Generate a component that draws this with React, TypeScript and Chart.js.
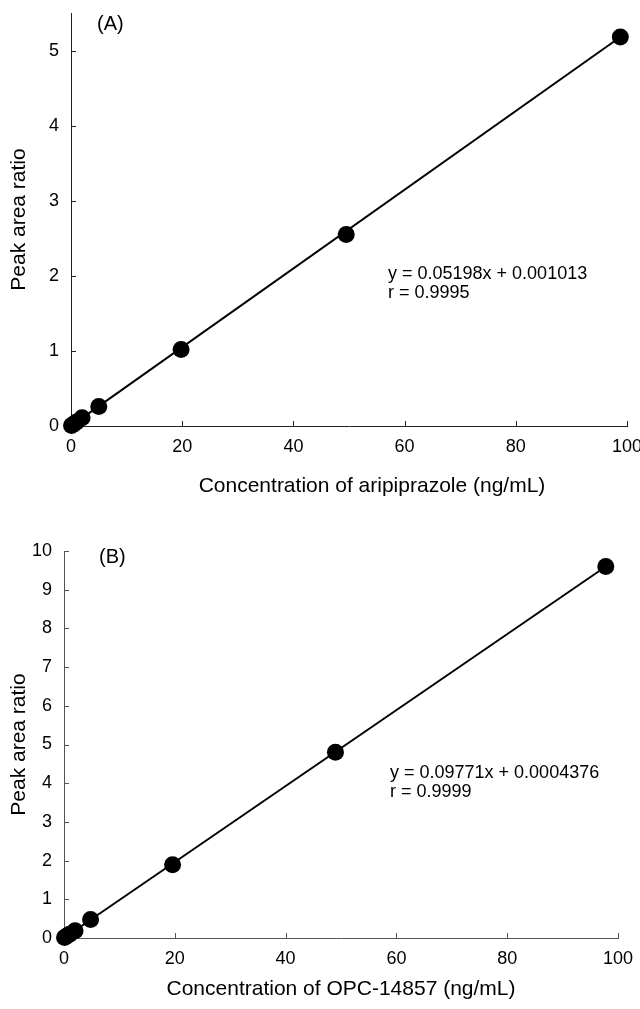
import React, { useEffect, useRef } from "react";
import { Chart, registerables } from "chart.js";

Chart.register(...registerables);

// ---- data ----
const concA = [0.1, 0.5, 1, 2, 5, 19.8, 49.5, 98.8];
const ratioA = [0.006, 0.027, 0.053, 0.11, 0.26, 1.02, 2.55, 5.18];
const fitAX = [0, 98.8];
const fitAY = [0.001, 5.18];

const concB = [0.1, 0.5, 1, 2, 4.8, 19.6, 49, 97.8];
const ratioB = [0.01, 0.05, 0.1, 0.19, 0.48, 1.89, 4.8, 9.6];
const fitBX = [0, 97.8];
const fitBY = [0.0004, 9.6];

const xTickValues = [0, 20, 40, 60, 80, 100];
const yTicksA = [0, 1, 2, 3, 4, 5];
const yTicksB = [0, 1, 2, 3, 4, 5, 6, 7, 8, 9, 10];

const eqA = ["y = 0.05198x + 0.001013", "r = 0.9995"];
const eqB = ["y = 0.09771x + 0.0004376", "r = 0.9999"];

const FONT = '"Liberation Sans", Arial, Helvetica, sans-serif';

const decorPlugin = {
  id: "decor",
  beforeDatasetsDraw(chart: any, _args: any, opts: any) {
    const { ctx, chartArea } = chart;
    const xs = chart.scales.x;
    const ys = chart.scales.y;
    ctx.save();
    ctx.strokeStyle = opts.axisColor;
    ctx.lineWidth = 1;
    xs.ticks.forEach((t: any) => {
      const px = Math.round(xs.getPixelForValue(t.value)) + 0.5;
      ctx.beginPath();
      ctx.moveTo(px, chartArea.bottom);
      ctx.lineTo(px, chartArea.bottom - opts.tickLen);
      ctx.stroke();
    });
    ys.ticks.forEach((t: any) => {
      const py = Math.round(ys.getPixelForValue(t.value)) + 0.5;
      ctx.beginPath();
      ctx.moveTo(chartArea.left, py);
      ctx.lineTo(chartArea.left + opts.tickLen, py);
      ctx.stroke();
    });
    ctx.restore();
  },
  afterDraw(chart: any, _args: any, opts: any) {
    const { ctx, chartArea } = chart;
    ctx.save();
    ctx.fillStyle = "#000";
    ctx.textAlign = "left";
    ctx.textBaseline = "middle";
    ctx.font = `18px ${FONT}`;
    (opts.eq as string[]).forEach((line, i) => {
      ctx.fillText(line, chartArea.left + opts.eqDx, chartArea.top + opts.eqDy + i * opts.eqGap);
    });
    ctx.font = `20px ${FONT}`;
    ctx.fillText(opts.panel, chartArea.left + opts.pDx, chartArea.top + opts.pDy);
    // x-axis title
    ctx.font = `21px ${FONT}`;
    ctx.textAlign = "center";
    ctx.fillText(
      opts.xTitle,
      (chartArea.left + chartArea.right) / 2 + opts.xTitleDx,
      chartArea.bottom + opts.xTitleDy
    );
    ctx.restore();
  },
};

type Cfg = {
  xs: number[];
  ys: number[];
  fx: number[];
  fy: number[];
  yMax: number;
  yTicks: number[];
  xTitle: string;
  eq: string[];
  panel: string;
  height: number;
  pad: { top: number; right: number };
  yWidth: number;
  xHeight: number;
  xTitleDx: number;
  xTitleDy: number;
  axisColor: string;
  eqDx: number;
  eqDy: number;
  pDx: number;
  pDy: number;
};

function Panel({ cfg }: { cfg: Cfg }) {
  const ref = useRef<HTMLCanvasElement | null>(null);
  useEffect(() => {
    if (!ref.current) return;
    const points = cfg.xs.map((x, i) => ({ x, y: cfg.ys[i] }));
    const fit = cfg.fx.map((x, i) => ({ x, y: cfg.fy[i] }));
    const chart = new Chart(ref.current, {
      type: "scatter",
      data: {
        datasets: [
          {
            data: points,
            pointRadius: 8.5,
            pointBackgroundColor: "#000",
            pointBorderWidth: 0,
            pointHoverRadius: 8.5,
            showLine: false,
            clip: false as any,
          },
          {
            data: fit,
            showLine: true,
            borderColor: "#000",
            borderWidth: 2,
            pointRadius: 0,
            pointHoverRadius: 0,
            clip: false as any,
          },
        ],
      },
      options: {
        animation: false,
        responsive: false,
        events: [],
        layout: { padding: { top: cfg.pad.top, right: cfg.pad.right, left: 0, bottom: 0 } },
        plugins: {
          legend: { display: false },
          tooltip: { enabled: false },
          decor: {
            axisColor: cfg.axisColor,
            tickLen: 5,
            eq: cfg.eq,
            eqDx: cfg.eqDx,
            eqDy: cfg.eqDy,
            eqGap: 19,
            panel: cfg.panel,
            pDx: cfg.pDx,
            pDy: cfg.pDy,
            xTitle: cfg.xTitle,
            xTitleDx: cfg.xTitleDx,
            xTitleDy: cfg.xTitleDy,
          },
        } as any,
        scales: {
          x: {
            type: "linear",
            min: 0,
            max: 100,
            afterBuildTicks: (s: any) => {
              s.ticks = xTickValues.map((v) => ({ value: v }));
            },
            afterFit: (s: any) => {
              s.height = cfg.xHeight;
              s.paddingLeft = 0;
              s.paddingRight = 0;
            },
            grid: { display: false, drawTicks: false },
            border: { display: true, color: cfg.axisColor, width: 1 },
            ticks: {
              color: "#000",
              font: { size: 18, family: FONT },
              padding: 10,
              maxRotation: 0,
              autoSkip: false,
            },
            title: { display: false },
          },
          y: {
            type: "linear",
            min: 0,
            max: cfg.yMax,
            afterBuildTicks: (s: any) => {
              s.ticks = cfg.yTicks.map((v) => ({ value: v }));
            },
            afterFit: (s: any) => {
              s.width = cfg.yWidth;
              s.paddingTop = 0;
              s.paddingBottom = 0;
            },
            grid: { display: false, drawTicks: false },
            border: { display: true, color: cfg.axisColor, width: 1 },
            ticks: {
              color: "#000",
              font: { size: 18, family: FONT },
              padding: 12,
              autoSkip: false,
            },
            title: {
              display: true,
              text: "Peak area ratio",
              color: "#000",
              font: { size: 21, family: FONT },
              padding: { top: 7, bottom: 0 },
            },
          },
        },
      },
      plugins: [decorPlugin],
    });
    return () => chart.destroy();
  }, [cfg]);
  return <canvas ref={ref} width={640} height={cfg.height} style={{ display: "block" }} />;
}

const cfgA: Cfg = {
  xs: concA,
  ys: ratioA,
  fx: fitAX,
  fy: fitAY,
  yMax: 5.5,
  yTicks: yTicksA,
  xTitle: "Concentration of aripiprazole (ng/mL)",
  eq: eqA,
  panel: "(A)",
  height: 510,
  pad: { top: 13, right: 13 },
  yWidth: 71,
  xHeight: 84,
  xTitleDx: 23,
  xTitleDy: 60,
  axisColor: "#222",
  eqDx: 317,
  eqDy: 261,
  pDx: 26,
  pDy: 11,
};

const cfgB: Cfg = {
  xs: concB,
  ys: ratioB,
  fx: fitBX,
  fy: fitBY,
  yMax: 10,
  yTicks: yTicksB,
  xTitle: "Concentration of OPC-14857 (ng/mL)",
  eq: eqB,
  panel: "(B)",
  height: 499,
  pad: { top: 41, right: 22 },
  yWidth: 64,
  xHeight: 71,
  xTitleDx: 0,
  xTitleDy: 51,
  axisColor: "#555",
  eqDx: 326,
  eqDy: 222,
  pDx: 35,
  pDy: 6,
};

export default function App() {
  return (
    <div style={{ position: "absolute", left: 0, top: 0, width: 640, height: 1009, background: "#fff" }}>
      <Panel cfg={cfgA} />
      <Panel cfg={cfgB} />
    </div>
  );
}
